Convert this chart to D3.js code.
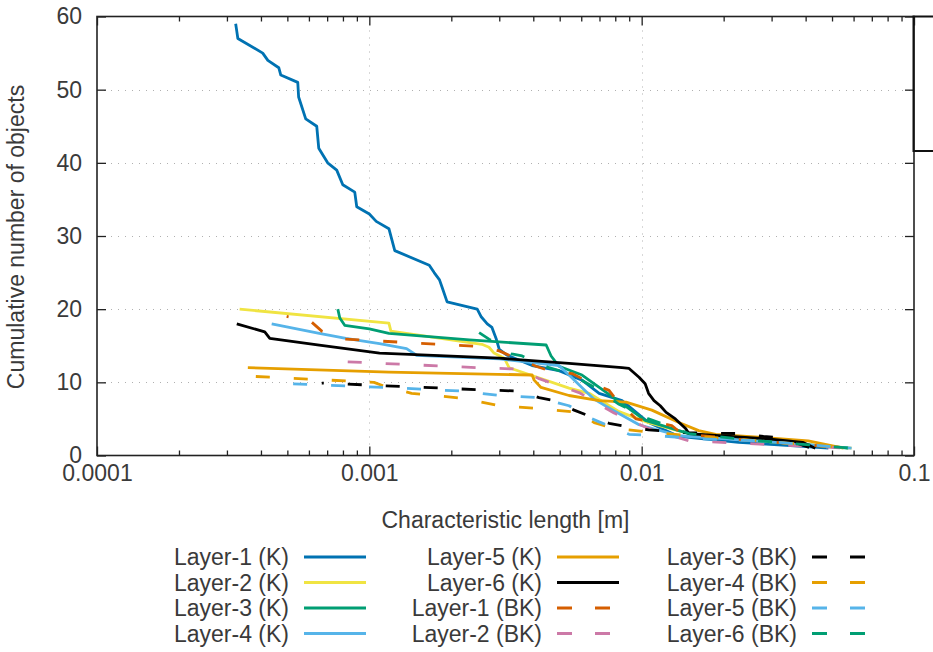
<!DOCTYPE html>
<html>
<head>
<meta charset="utf-8">
<script src="https://cdn.jsdelivr.net/npm/d3@7"></script>
<style>
  body { margin: 0; background: #fff; }
  text { font-family: "Liberation Sans", Arial, sans-serif; fill: #3a3a3a; }
</style>
</head>
<body>
<svg width="933" height="652"></svg>
<script>
// [characteristic length (m), cumulative number of objects]
var layer1K = [[3.23e-4,59],[3.26e-4,58],[3.29e-4,57],[4.06e-4,55],[4.24e-4,54],[4.65e-4,53],[4.73e-4,52],[5.46e-4,51],[5.50e-4,49],[5.84e-4,46],[6.41e-4,45],[6.52e-4,42],[7.03e-4,40],[7.59e-4,39],[7.99e-4,37],[8.84e-4,36],[8.99e-4,34],[1.00e-3,33],[1.06e-3,32],[1.18e-3,31],[1.24e-3,28],[1.66e-3,26],[1.73e-3,25],[1.81e-3,24],[1.85e-3,23],[1.93e-3,21],[2.49e-3,20],[2.57e-3,19],[2.71e-3,18],[2.82e-3,17.5],[2.92e-3,16],[3.00e-3,14.5],[3.21e-3,13.7],[3.96e-3,12.3],[4.97e-3,11.6],[6.04e-3,10.3],[6.98e-3,8.5],[8.47e-3,7.5],[1.06e-2,4.5],[1.37e-2,2.6],[2.27e-2,1.8],[3.76e-2,1.3],[4.85e-2,1]];
var layer2K = [[3.34e-4,20],[1.18e-3,18.1],[1.20e-3,17],[2.59e-3,15.2],[2.75e-3,14.8],[2.87e-3,14],[3.13e-3,13.3],[3.26e-3,12],[5.41e-3,9.2],[6.41e-3,8.5],[8.26e-3,6],[1.06e-2,4.5],[1.49e-2,3],[2.68e-2,2],[5.9e-2,1]];
var layer3K = [[7.66e-4,20],[7.79e-4,18.8],[8.12e-4,17.8],[1.0e-3,17.3],[1.18e-3,16.7],[2.33e-3,15.8],[4.46e-3,15.1],[4.65e-3,13.6],[4.97e-3,12.2],[6.04e-3,11],[6.86e-3,9.5],[8.47e-3,7.1],[1.03e-2,4.8],[1.49e-2,3],[2.68e-2,2],[5.74e-2,1]];
var layer4K = [[4.38e-4,18],[6.55e-4,16.7],[8.2e-4,16],[1.09e-3,15.3],[1.37e-3,14.6],[1.49e-3,13.7],[3.0e-3,13.2],[4.97e-3,12.3],[5.41e-3,11],[6.15e-3,9],[6.69e-3,7.7],[7.59e-3,6.5],[9.78e-3,4.2],[1.37e-2,2.7],[2.68e-2,2],[5.9e-2,1]];
var layer5K = [[3.58e-4,12],[1.18e-3,11.4],[3.96e-3,11],[4.03e-3,10.3],[4.27e-3,9.3],[5.41e-3,8.2],[6.98e-3,7.5],[8.76e-3,7.3],[1.09e-2,6.2],[1.37e-2,4.5],[1.62e-2,3.4],[1.87e-2,2.9],[2.68e-2,2.5],[4.09e-2,2],[5.51e-2,1]];
var layer6K = [[3.26e-4,18],[4.13e-4,16.9],[4.31e-4,16],[6.55e-4,15.1],[1.09e-3,14],[3.0e-3,13.3],[5.41e-3,12.6],[8.47e-3,12],[8.99e-3,11.9],[9.78e-3,10.7],[1.03e-2,9.8],[1.06e-2,8.5],[1.11e-2,7.5],[1.17e-2,6.8],[1.23e-2,5.9],[1.33e-2,5],[1.45e-2,3.7],[1.49e-2,3],[2.85e-2,2.3],[3.9e-2,1.8],[4.34e-2,1]];
var layer1BK = [[4.97e-4,19],[6.15e-4,18.2],[6.69e-4,17],[8.12e-4,15.9],[2.53e-3,14.9],[3.0e-3,14.3],[3.26e-3,13.7],[4.09e-3,12.2],[4.57e-3,11.6],[5.55e-3,11.2],[6.04e-3,10.5],[7.59e-3,8.9],[7.92e-3,8],[9.54e-3,5],[1.29e-2,4.1],[1.4e-2,3],[2.27e-2,2.2],[5.74e-2,1]];
var layer2BK = [[8.33e-4,12.8],[2.53e-3,12],[3.55e-3,11.8],[4.2e-3,10.5],[5.89e-3,8.6],[6.98e-3,7],[7.92e-3,5.8],[1.06e-2,3.7],[1.49e-2,2],[5.74e-2,1]];
var layer3BK = [[6.69e-4,9.9],[2.49e-3,9.0],[3.55e-3,8.8],[4.2e-3,7.9],[4.77e-3,7.5],[5.65e-3,6.2],[6.41e-3,5.4],[7.59e-3,4.4],[8.62e-3,4.0],[1.06e-2,3.5],[1.49e-2,3.1],[2.3e-2,3.0],[2.8e-2,2.6],[3.31e-2,2.4],[3.76e-2,1.6],[4.2e-2,1]];
var layer4BK = [[3.83e-4,10.8],[1.04e-3,10.0],[1.15e-3,9.4],[1.43e-3,8.5],[2.23e-3,7.8],[3.0e-3,6.8],[4.2e-3,6.4],[5.89e-3,5.9],[6.69e-3,4.5],[7.92e-3,3.7],[1.06e-2,3.2],[1.62e-2,2.6],[2.68e-2,2],[5.9e-2,1]];
var layer5BK = [[5.25e-4,9.8],[1.15e-3,9.3],[2.19e-3,8.8],[3.0e-3,8.2],[4.2e-3,7.9],[5.41e-3,6.8],[6.41e-3,5.2],[6.98e-3,4.6],[8.99e-3,2.9],[1.15e-2,2.7],[1.62e-2,2.3],[2.68e-2,2],[5.9e-2,1]];
var layer6BK = [[2.53e-3,16.8],[2.75e-3,15.9],[3.0e-3,15.1],[3.33e-3,13.9],[3.64e-3,13.6],[4.57e-3,12],[5.41e-3,11.2],[6.8e-3,9.2],[8.26e-3,7],[1.06e-2,5],[1.49e-2,3],[2.68e-2,2],[5.88e-2,1]];

var seriesNames = ["Layer-1 (K)", "Layer-2 (K)", "Layer-3 (K)", "Layer-4 (K)", "Layer-5 (K)", "Layer-6 (K)",
                   "Layer-1 (BK)", "Layer-2 (BK)", "Layer-3 (BK)", "Layer-4 (BK)", "Layer-5 (BK)", "Layer-6 (BK)"];
var seriesData = [layer1K, layer2K, layer3K, layer4K, layer5K, layer6K,
                  layer1BK, layer2BK, layer3BK, layer4BK, layer5BK, layer6BK];

var xTicks = [1e-4, 1e-3, 1e-2, 1e-1];
var xTickLabels = ["0.0001", "0.001", "0.01", "0.1"];
var yTicks = [0, 10, 20, 30, 40, 50, 60];

// styles
var colors = ["#0072b2", "#f0e442", "#009e73", "#56b4e9", "#e69f00", "#000000",
              "#d55e00", "#cc79a7", "#000000", "#e69f00", "#56b4e9", "#009e73"];
var dashOffsets = [0, 0, 0, 0, 0, 0, 12, 0, 12, 0, 0, 0];

var svg = d3.select("svg"),
    width = +svg.attr("width"),
    height = +svg.attr("height");

// plot frame (note: "top" is a reserved window property, so use other names)
var plotLeft = 97, plotRight = 914, plotTop = 16.5, plotBottom = 455.5;

var x = d3.scaleLog().domain([1e-4, 1e-1]).range([plotLeft, plotRight]);
var y = d3.scaleLinear().domain([0, 60]).range([plotBottom, plotTop]);

var minorTicks = [];
xTicks.slice(0, 3).forEach(function(d) {
  for (var k = 2; k <= 9; k++) minorTicks.push(d * k);
});

// dotted grid
var grid = svg.append("g")
  .attr("stroke", "#b0b0b0")
  .attr("stroke-width", 1)
  .attr("stroke-dasharray", "1,6");

grid.selectAll(".gx").data([1e-3, 1e-2]).enter().append("line")
  .attr("x1", function(d) { return Math.round(x(d)) + 0.5; })
  .attr("x2", function(d) { return Math.round(x(d)) + 0.5; })
  .attr("y1", plotTop).attr("y2", plotBottom);

grid.selectAll(".gy").data([10, 20, 30, 40, 50]).enter().append("line")
  .attr("y1", function(d) { return Math.round(y(d)) + 0.5; })
  .attr("y2", function(d) { return Math.round(y(d)) + 0.5; })
  .attr("x1", plotLeft).attr("x2", plotRight);

// axes (ticks pointing inwards)
svg.append("g")
  .attr("transform", "translate(0," + plotBottom + ")")
  .call(d3.axisBottom(x).tickValues(xTicks)
    .tickFormat(function(d, i) { return xTickLabels[i]; })
    .tickSize(-9).tickSizeOuter(0).tickPadding(9));

svg.append("g")
  .attr("transform", "translate(0," + plotBottom + ")")
  .call(d3.axisBottom(x).tickValues(minorTicks).tickFormat("").tickSize(-5).tickSizeOuter(0));

svg.append("g")
  .attr("transform", "translate(0," + plotTop + ")")
  .call(d3.axisTop(x).tickValues(xTicks).tickFormat("").tickSize(-9).tickSizeOuter(0));

svg.append("g")
  .attr("transform", "translate(0," + plotTop + ")")
  .call(d3.axisTop(x).tickValues(minorTicks).tickFormat("").tickSize(-5).tickSizeOuter(0));

svg.append("g")
  .attr("transform", "translate(" + plotLeft + ",0)")
  .call(d3.axisLeft(y).tickValues(yTicks).tickSize(-9).tickSizeOuter(0).tickPadding(15));

svg.append("g")
  .attr("transform", "translate(" + plotRight + ",0)")
  .call(d3.axisRight(y).tickValues(yTicks).tickFormat("").tickSize(-9).tickSizeOuter(0));

svg.selectAll(".domain").remove();
svg.selectAll(".tick line").attr("stroke", "#222").attr("stroke-width", 1.3);
svg.selectAll(".tick text")
  .style("font-size", "23px")
  .attr("fill", "#3a3a3a");

// data lines
var line = d3.line()
  .x(function(d) { return x(d[0]); })
  .y(function(d) { return y(d[1]); });

svg.append("g")
  .attr("class", "series")
  .selectAll("path")
  .data(seriesData)
  .enter().append("path")
  .attr("d", function(d) { return line(d); })
  .attr("fill", "none")
  .attr("stroke", function(d, i) { return colors[i]; })
  .attr("stroke-width", 2.8)
  .attr("stroke-linejoin", "round")
  .attr("stroke-dasharray", function(d, i) { return i < 6 ? null : "14,24"; })
  .attr("stroke-dashoffset", function(d, i) { return dashOffsets[i]; });

// border
svg.append("rect")
  .attr("x", plotLeft).attr("y", plotTop)
  .attr("width", plotRight - plotLeft).attr("height", plotBottom - plotTop)
  .attr("fill", "none")
  .attr("stroke", "#222")
  .attr("stroke-width", 1.6);

// key box that falls off the right edge
svg.append("rect")
  .attr("x", plotRight - 0.5).attr("y", plotTop)
  .attr("width", 80).attr("height", 134.5)
  .attr("fill", "none")
  .attr("stroke", "#111")
  .attr("stroke-width", 2);

// axis titles
svg.append("text")
  .attr("x", (plotLeft + plotRight) / 2)
  .attr("y", 528)
  .attr("text-anchor", "middle")
  .style("font-size", "23px")
  .text("Characteristic length [m]");

svg.append("text")
  .attr("transform", "translate(23.5," + ((plotTop + plotBottom) / 2 + 1) + ") rotate(-90)")
  .attr("text-anchor", "middle")
  .style("font-size", "23px")
  .text("Cumulative number of objects");

// legend
var colRight = [289, 542, 797];
var rowY = [557, 582.5, 608, 633.5];

var legend = svg.append("g").attr("class", "legend")
  .selectAll("g")
  .data(seriesNames)
  .enter().append("g")
  .attr("transform", function(d, i) {
    return "translate(" + colRight[Math.floor(i / 4)] + "," + rowY[i % 4] + ")";
  });

legend.append("text")
  .attr("text-anchor", "end")
  .attr("dy", "0.35em")
  .style("font-size", "23px")
  .text(function(d) { return d; });

legend.append("line")
  .attr("x1", 15).attr("x2", 77)
  .attr("y1", 0).attr("y2", 0)
  .attr("stroke", function(d, i) { return colors[i]; })
  .attr("stroke-width", 3)
  .attr("stroke-dasharray", function(d, i) { return i < 6 ? null : "15,23"; });
</script>
</body>
</html>
